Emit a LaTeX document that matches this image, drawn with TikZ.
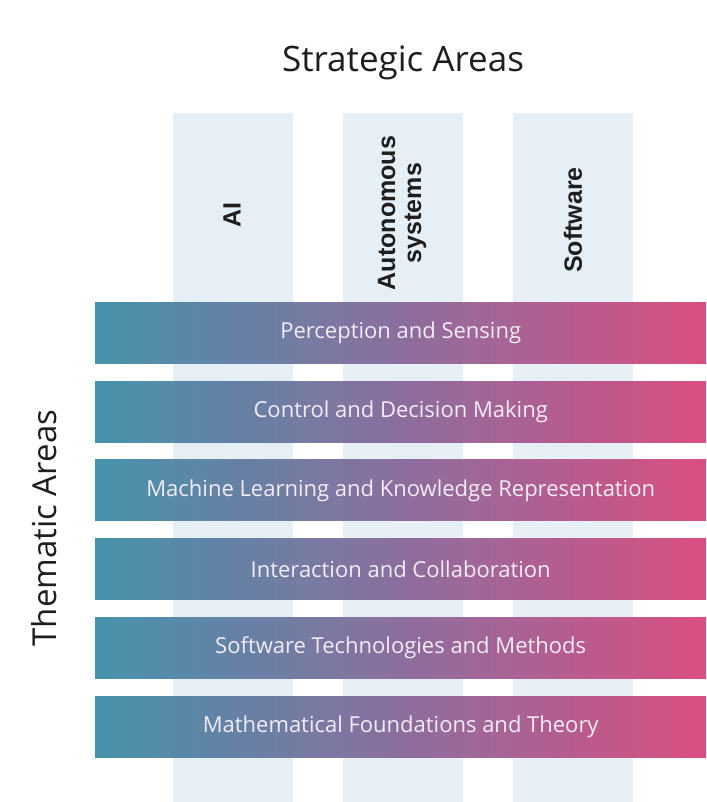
\documentclass[tikz,border=0pt]{standalone}
\usepackage{fontspec}
\setmainfont{Open Sans}
\newfontfamily\colfont{Liberation Sans}
\definecolor{stripcol}{HTML}{E6EEF6}
\definecolor{tealc}{HTML}{3D8EA7}
\definecolor{purpc}{HTML}{87689A}
\definecolor{pinkc}{HTML}{D9457B}
\definecolor{bandtext}{HTML}{F2ECF6}
\definecolor{titletext}{HTML}{1E1E1E}
\tikzset{
  strip/.style={fill=stripcol, draw=none},
  band/.style={draw=none, left color=tealc, right color=pinkc, middle color=purpc,
    fill opacity=0.95, text opacity=1, minimum width=611pt, minimum height=61pt,
    anchor=north west, inner sep=0pt, text=bandtext, font=\fontsize{22}{24}\selectfont},
  collabel/.style={rotate=90, font=\colfont\bfseries\fontsize{25}{26}\selectfont, text=titletext, align=center},
  heading/.style={font=\fontsize{35}{37}\selectfont, text=titletext}
}
\begin{document}
\begin{tikzpicture}[x=1pt,y=-1pt]
\useasboundingbox[fill=white] (0,0) rectangle (706,802);
% strategic area strips
\fill[strip] (173,113) rectangle (293,802);
\fill[strip] (343,113) rectangle (463,802);
\fill[strip] (513,113) rectangle (633,802);
% headings
\node[heading] (sa) at (403,63) {Strategic Areas};
\node[heading, rotate=90, font=\fontsize{33}{35}\selectfont] (ta) at (44,528) {Thematic Areas};
% column labels
\node[collabel] (ai) at (232,215) {AI};
\node[collabel] (as) at (402,213) {Autonomous\\systems};
\node[collabel] (sw) at (573,220) {Software};
% thematic bands
\node[band] (b1) at (95,302.0) {Perception and Sensing};
\node[band] (b2) at (95,380.8) {Control and Decision Making};
\node[band] (b3) at (95,459.6) {Machine Learning and Knowledge Representation};
\node[band] (b4) at (95,538.4) {Interaction and Collaboration};
\node[band] (b5) at (95,617.2) {Software Technologies and Methods};
\node[band] (b6) at (95,696.0) {Mathematical Foundations and Theory};
\end{tikzpicture}
\end{document}
